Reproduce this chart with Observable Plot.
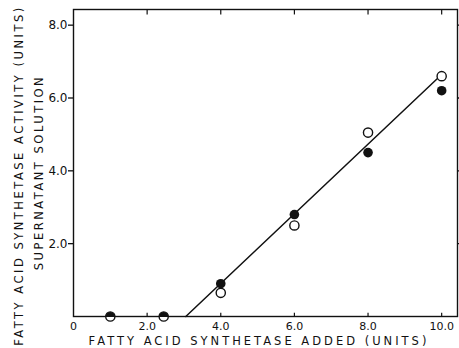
<!DOCTYPE html>
<html><head><meta charset="utf-8">
<script src="https://cdn.jsdelivr.net/npm/d3@7"></script>
<script src="https://cdn.jsdelivr.net/npm/@observablehq/plot@0.6"></script>
<style>
html,body{margin:0;padding:0;background:#fff;}
</style>
</head><body><div id="chart"></div>
<script>
const xTickValues = [0, 2, 4, 6, 8, 10];
const xTickLabels = ["0", "2.0", "4.0", "6.0", "8.0", "10.0"];
const yTickValues = [2, 4, 6, 8];
const yTickLabels = ["2.0", "4.0", "6.0", "8.0"];
const doseX = [1.0, 2.45, 4, 6, 8, 10];
const filledY = [0, 0, 0.9, 2.8, 4.5, 6.2];
const openY = [0, 0, 0.65, 2.5, 5.05, 6.6];
const fitX = [3.05, 9.9];
const fitY = [0, 6.55];
const xTitle = "FATTY ACID SYNTHETASE ADDED (UNITS)";
const yTitle1 = "FATTY ACID SYNTHETASE ACTIVITY (UNITS)";
const yTitle2 = "SUPERNATANT SOLUTION";

const filled = doseX.map((x, i) => ({x, y: filledY[i]}));
const open = doseX.map((x, i) => ({x, y: openY[i]}));
const overlap = filled.filter((d, i) => d.y === open[i].y);
const filledOnly = filled.filter((d, i) => d.y !== open[i].y);
const fit = fitX.map((x, i) => ({x, y: fitY[i]}));
const bottomTicks = xTickValues.filter(v => v > 0);

const upperHalf = {
  draw(context, size) {
    const r = Math.sqrt(size / Math.PI);
    context.moveTo(r, 0.6);
    context.lineTo(r, 0);
    context.arc(0, 0, r, 0, Math.PI, true);
    context.lineTo(-r, 0.6);
    context.closePath();
  }
};

const xMax = 10.43, yMax = 8.43;

const chart = Plot.plot({
  width: 459,
  height: 348,
  marginLeft: 73,
  marginRight: 2,
  marginTop: 9,
  marginBottom: 32,
  style: {fontFamily: "DejaVu Sans", color: "#111", background: "#fff"},
  x: {domain: [0, xMax], label: null},
  y: {domain: [0, yMax], label: null},
  marks: [
    Plot.frame({stroke: "#111", strokeWidth: 1.4}),
    Plot.axisY({anchor: "left", ticks: yTickValues, tickSize: 5, tickPadding: 1, fontSize: 12,
      tickFormat: d => yTickLabels[yTickValues.indexOf(d)], label: null, strokeWidth: 1.3}),
    Plot.axisY({anchor: "right", ticks: yTickValues, tickSize: 3, tickFormat: () => "", label: null, strokeWidth: 1.3}),
    Plot.axisX({anchor: "bottom", ticks: xTickValues, tickSize: 0, tickPadding: 6, fontSize: 11,
      tickFormat: d => xTickLabels[xTickValues.indexOf(d)], label: null}),
    Plot.ruleX(bottomTicks, {x: d => d, y1: -0.02, y2: 0.09, stroke: "#111", strokeWidth: 1.2}),
    Plot.ruleX(bottomTicks, {x: d => d, y1: yMax, y2: yMax - 0.15, stroke: "#111", strokeWidth: 1.2}),
    Plot.line(fit, {x: "x", y: "y", stroke: "#111", strokeWidth: 1.5}),
    Plot.dot(open, {x: "x", y: "y", r: 4.6, stroke: "#111", strokeWidth: 1.4, fill: "#fff"}),
    Plot.dot(filledOnly, {x: "x", y: "y", r: 4.8, fill: "#111", stroke: "none"}),
    Plot.dot(overlap, {x: "x", y: "y", r: 4.6, symbol: upperHalf, fill: "#111", stroke: "none"}),
    Plot.text([xTitle], {text: d => d, frameAnchor: "bottom", textAnchor: "middle", lineAnchor: "middle", dx: -6.5, dy: 25, fontSize: 11.5, fill: "#111"}),
    Plot.text([yTitle1], {text: d => d, frameAnchor: "left", textAnchor: "middle", lineAnchor: "middle", rotate: -90, dx: -54, dy: 12.5, fontSize: 11.5, fill: "#111"}),
    Plot.text([yTitle2], {text: d => d, frameAnchor: "left", textAnchor: "middle", lineAnchor: "middle", rotate: -90, dx: -34, dy: 9.5, fontSize: 11.5, fill: "#111"})
  ]
});

d3.select(chart).selectAll("g[aria-label='text'] text").each(function () {
  const t = this.textContent;
  d3.select(this).attr("letter-spacing", t === xTitle ? 3 : 2.5);
});

document.getElementById("chart").appendChild(chart);
</script>
</body></html>
